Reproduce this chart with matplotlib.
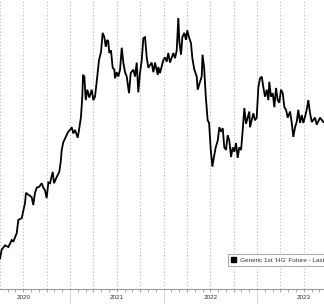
import matplotlib
matplotlib.use("Agg")
from matplotlib import pyplot as plt
from matplotlib.patches import Patch
from matplotlib import transforms
import numpy as np

# Generic 1st 'HG' Future (copper); dates as fractional years
dates = [
    2020.251, 2020.269, 2020.305, 2020.340, 2020.376, 2020.393, 2020.430, 2020.447,
    2020.483, 2020.518, 2020.529, 2020.554, 2020.590, 2020.607, 2020.625, 2020.644,
    2020.671, 2020.697, 2020.714, 2020.732, 2020.750, 2020.768, 2020.786, 2020.815,
    2020.829, 2020.857, 2020.885, 2020.900, 2020.911, 2020.928, 2020.964, 2020.981,
    2021.000, 2021.018, 2021.035, 2021.053, 2021.082, 2021.096, 2021.117, 2021.131,
    2021.139, 2021.153, 2021.168, 2021.185, 2021.206, 2021.232, 2021.249, 2021.267,
    2021.285, 2021.310, 2021.331, 2021.349, 2021.367, 2021.382, 2021.399, 2021.409,
    2021.420, 2021.438, 2021.456, 2021.474, 2021.481, 2021.499, 2021.516, 2021.535,
    2021.553, 2021.570, 2021.588, 2021.606, 2021.631, 2021.649, 2021.677, 2021.695,
    2021.713, 2021.730, 2021.748, 2021.767, 2021.784, 2021.802, 2021.820, 2021.837,
    2021.873, 2021.891, 2021.909, 2021.938, 2021.944, 2021.962, 2021.998, 2022.016,
    2022.034, 2022.051, 2022.069, 2022.105, 2022.123, 2022.141, 2022.158, 2022.169,
    2022.187, 2022.201, 2022.222, 2022.240, 2022.254, 2022.272, 2022.294, 2022.308,
    2022.329, 2022.355, 2022.365, 2022.390, 2022.408, 2022.417, 2022.434, 2022.452,
    2022.472, 2022.487, 2022.505, 2022.522, 2022.537, 2022.558, 2022.580, 2022.597,
    2022.615, 2022.633, 2022.650, 2022.668, 2022.686, 2022.703, 2022.722, 2022.740,
    2022.757, 2022.775, 2022.793, 2022.810, 2022.829, 2022.847, 2022.864, 2022.882,
    2022.900, 2022.917, 2022.925, 2022.943, 2022.960, 2022.978, 2022.996, 2023.014,
    2023.032, 2023.050, 2023.067, 2023.085, 2023.104, 2023.121, 2023.131, 2023.149,
    2023.168, 2023.185, 2023.203, 2023.221, 2023.238, 2023.256, 2023.275, 2023.292,
    2023.310, 2023.328, 2023.353, 2023.371, 2023.388, 2023.406, 2023.424, 2023.441,
    2023.460, 2023.478, 2023.495, 2023.513, 2023.531, 2023.548, 2023.567, 2023.585,
    2023.620, 2023.638, 2023.674, 2023.709,
]
prices = [
    2.19, 2.29, 2.34, 2.32, 2.40, 2.38, 2.48, 2.63,
    2.65, 2.82, 2.94, 2.92, 2.89, 2.80, 2.94, 3.00,
    3.01, 3.05, 3.00, 2.97, 2.88, 3.06, 3.05, 3.18,
    3.05, 3.12, 3.18, 3.29, 3.43, 3.52, 3.60, 3.64,
    3.66, 3.69, 3.62, 3.66, 3.57, 3.66, 3.81, 4.04,
    4.29, 4.27, 4.00, 4.12, 4.03, 4.12, 4.00, 4.04,
    4.21, 4.46, 4.55, 4.77, 4.72, 4.61, 4.69, 4.67,
    4.54, 4.57, 4.37, 4.35, 4.25, 4.32, 4.27, 4.35,
    4.60, 4.43, 4.32, 4.27, 4.08, 4.31, 4.35, 4.27,
    4.43, 4.09, 4.31, 4.46, 4.71, 4.72, 4.49, 4.37,
    4.43, 4.32, 4.43, 4.29, 4.38, 4.31, 4.46, 4.49,
    4.44, 4.54, 4.43, 4.54, 4.48, 4.57, 4.94, 4.67,
    4.52, 4.72, 4.77, 4.69, 4.80, 4.72, 4.65, 4.48,
    4.35, 4.27, 4.12, 4.21, 4.27, 4.52, 4.37, 4.04,
    3.77, 3.74, 3.43, 3.24, 3.34, 3.46, 3.54, 3.69,
    3.64, 3.68, 3.46, 3.43, 3.60, 3.54, 3.35, 3.46,
    3.41, 3.51, 3.34, 3.46, 3.43, 3.66, 3.91, 3.73,
    3.80, 3.87, 3.69, 3.77, 3.85, 3.77, 3.80, 4.15,
    4.25, 4.27, 4.15, 4.04, 4.12, 4.00, 4.21, 4.04,
    4.08, 3.92, 4.14, 4.00, 3.97, 4.12, 4.08, 3.92,
    3.89, 3.80, 3.87, 3.74, 3.58, 3.69, 3.75, 3.89,
    3.74, 3.83, 3.74, 3.81, 3.89, 4.00, 3.85, 3.75,
    3.80, 3.72, 3.80, 3.75,
]
years = [2020, 2021, 2022, 2023]
legend_label = "Generic 1st 'HG' Future - Last Price"

plt.rcParams['font.family'] = ['Liberation Sans', 'DejaVu Sans']

fig = plt.figure(figsize=(3.24, 3.04), dpi=100)
ax = fig.add_axes([0, 15 / 304, 1, 289 / 304])

ax.plot(dates, prices, color='black', linewidth=1.3, solid_joinstyle='miter')

# dotted grid: price levels and quarters
ax.set_yticks(np.arange(2.0, 5.01, 0.5))
ax.yaxis.set_visible(False)
ax.grid(axis='y', linestyle=(0, (1, 2)), color='#bbbbbb', linewidth=0.8)
for q in np.arange(2020, 2024, 0.25):
    ax.axvline(q, linestyle=(0, (1, 2)), color='#bbbbbb', linewidth=0.8, zorder=0)

for side in ['top', 'right', 'left']:
    ax.spines[side].set_visible(False)
ax.spines['bottom'].set_color('#999999')
ax.spines['bottom'].set_linewidth(0.8)

# monthly minor ticks, year separators as long major ticks
ax.set_xticks(years)
ax.set_xticklabels([])
ax.set_xticks(np.arange(2020, 2024, 1 / 12), minor=True)
ax.tick_params(axis='x', which='major', length=12, width=0.6, color='#cccccc', direction='out')
ax.tick_params(axis='x', which='minor', length=2, width=0.6, color='#999999', direction='out')

# limits last, set_xticks would widen them
ax.set_xlim(2020.251, 2023.716)
ax.set_ylim(1.84, 5.146)

trans = transforms.blended_transform_factory(ax.transData, ax.transAxes)
for yr in years:
    ax.text(yr + 0.5, -0.031, str(yr), transform=trans, ha='center', va='center',
            fontsize=4.5, color='#333333', clip_on=False)

leg = ax.legend(handles=[Patch(facecolor='black', edgecolor='black')], labels=[legend_label],
                loc='upper left', bbox_to_anchor=(0.694, 0.1315), fontsize=4.6,
                handlelength=0.8, handleheight=0.8, handletextpad=0.5, borderpad=0.5,
                frameon=True, fancybox=False, framealpha=1)
leg.get_frame().set_edgecolor('#999999')
leg.get_frame().set_linewidth(0.6)
for t in leg.get_texts():
    t.set_color('#333333')

fig.savefig('out.png', dpi=100)
